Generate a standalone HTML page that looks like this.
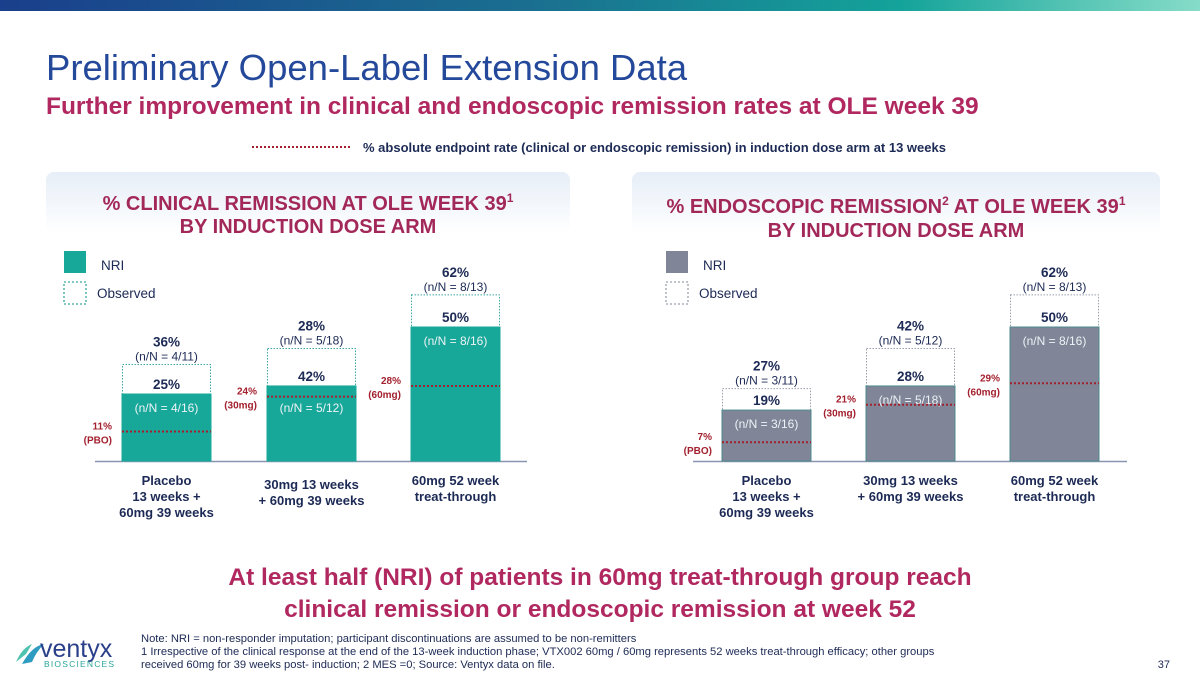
<!DOCTYPE html>
<html><head><meta charset="utf-8">
<style>
html,body{margin:0;padding:0;background:#fff;}
body{width:1200px;height:673px;overflow:hidden;position:relative;font-family:"Liberation Sans",Arial,sans-serif;}
svg text{font-family:"Liberation Sans",Arial,sans-serif;}
</style></head>
<body>
<svg id="slide" width="1200" height="673" viewBox="0 0 1200 673" xmlns="http://www.w3.org/2000/svg">
<defs>
<linearGradient id="topbar" x1="0" x2="1" y1="0" y2="0">
<stop offset="0" stop-color="#1a3f8c"/><stop offset="0.45" stop-color="#1a7090"/><stop offset="0.75" stop-color="#14a39a"/><stop offset="1" stop-color="#86dcc8"/>
</linearGradient>
<linearGradient id="hdr" x1="0" x2="0" y1="0" y2="1">
<stop offset="0" stop-color="#e6eef7"/><stop offset="1" stop-color="#ffffff"/>
</linearGradient>
</defs>
<rect x="0" y="0" width="1200" height="11" fill="url(#topbar)"/>
<text x="46" y="80" font-size="36.5" fill="#24489a">Preliminary Open-Label Extension Data</text>
<text x="46" y="114" font-size="24.5" font-weight="bold" fill="#b0285f">Further improvement in clinical and endoscopic remission rates at OLE week 39</text>
<line x1="252" y1="147" x2="350" y2="147" stroke="#a3202e" stroke-width="2" stroke-dasharray="2,2"/>
<text x="363" y="152" font-size="13" font-weight="bold" fill="#1c2a55">% absolute endpoint rate (clinical or endoscopic remission) in induction dose arm at 13 weeks</text>

<g>
<rect x="46" y="172" width="524" height="62" rx="8" fill="url(#hdr)"/>
<text x="308" y="210" text-anchor="middle" font-size="20" font-weight="bold" fill="#a3285a">% CLINICAL REMISSION AT OLE WEEK 39<tspan font-size="12" dy="-8">1</tspan></text>
<text x="308" y="233" text-anchor="middle" font-size="20" font-weight="bold" fill="#a3285a">BY INDUCTION DOSE ARM</text>
</g>
<g>
<rect x="632" y="172" width="528" height="62" rx="8" fill="url(#hdr)"/>
<text x="896" y="213" text-anchor="middle" font-size="20" font-weight="bold" fill="#a3285a">% ENDOSCOPIC REMISSION<tspan font-size="12" dy="-8">2</tspan><tspan dy="8"> AT OLE WEEK 39</tspan><tspan font-size="12" dy="-8">1</tspan></text>
<text x="896" y="237" text-anchor="middle" font-size="20" font-weight="bold" fill="#a3285a">BY INDUCTION DOSE ARM</text>
</g>

<g id="charts"></g>

<text x="600" y="585" text-anchor="middle" font-size="24.5" font-weight="bold" fill="#b0285f">At least half (NRI) of patients in 60mg treat-through group reach</text>
<text x="600" y="617" text-anchor="middle" font-size="24.5" font-weight="bold" fill="#b0285f">clinical remission or endoscopic remission at week 52</text>

<g>
<path d="M16 662 q6 -14 16 -18 l-6 10 z" fill="#4fc2b0"/>
<path d="M22 664 q10 -18 22 -20 q-8 8 -12 18 z" fill="#2e9cc0"/>
<text x="40" y="657" font-size="25" font-family="Liberation Serif,serif" fill="#2a3f8a">ventyx</text>
<text x="44" y="667" font-size="8.5" letter-spacing="1.2" fill="#2aa59a">BIOSCIENCES</text>
</g>
<g font-size="11.2" fill="#1c2a55">
<text x="141" y="642">Note: NRI = non-responder imputation; participant discontinuations are assumed to be non-remitters</text>
<text x="141" y="655">1 Irrespective of the clinical response at the end of the 13-week induction phase; VTX002 60mg / 60mg represents 52 weeks treat-through efficacy; other groups</text>
<text x="141" y="668">received 60mg for 39 weeks post- induction; 2 MES =0; Source: Ventyx data on file.</text>
</g>
<text x="1170" y="668" text-anchor="end" font-size="11" fill="#1c2a55">37</text>
</svg>
<script>
// ---- data ----
const clinicalNri = [25, 28, 50];
const clinicalObserved = [36, 42, 62];
const clinicalNriLabels = ["25%", "42%", "50%"];
const clinicalNriN = ["(n/N = 4/16)", "(n/N = 5/12)", "(n/N = 8/16)"];
const clinicalObsLabels = ["36%", "28%", "62%"];
const clinicalObsN = ["(n/N = 4/11)", "(n/N = 5/18)", "(n/N = 8/13)"];
const clinicalRef = [11, 24, 28];
const endoNri = [19, 28, 50];
const endoObserved = [27, 42, 62];
const endoNriLabels = ["19%", "28%", "50%"];
const endoNriN = ["(n/N = 3/16)", "(n/N = 5/18)", "(n/N = 8/16)"];
const endoObsLabels = ["27%", "42%", "62%"];
const endoObsN = ["(n/N = 3/11)", "(n/N = 5/12)", "(n/N = 8/13)"];
const endoRef = [7, 21, 29];
const refDoseLabels = ["(PBO)", "(30mg)", "(60mg)"];
const categoryLabels = [["Placebo","13 weeks +","60mg 39 weeks"],["30mg 13 weeks","+ 60mg 39 weeks"],["60mg 52 week","treat-through"]];

const NS = "http://www.w3.org/2000/svg";
const root = document.getElementById('charts');
function el(tag, attrs, parent, txt){
  const e = document.createElementNS(NS, tag);
  for (const k in attrs) e.setAttribute(k, attrs[k]);
  if (txt !== undefined) e.textContent = txt;
  parent.appendChild(e);
  return e;
}
const baseY = 461, pxPerPct = 2.68;
function yScale(v){ return baseY - v * pxPerPct; }

function drawChart(cfg){
  const g = el('g', {}, root);
  
  
  const lg = el('g', {}, g);
  
  
  const l1 = el('rect', {x: cfg.legX, y: 251, width: 22, height: 22, fill: cfg.color}, lg);
  
  
  el('text', {x: cfg.legX + 37, y: 270, 'font-size': 13.5, fill: '#1c2a55'}, lg, 'NRI');
  const l2 = el('rect', {x: cfg.legX, y: 282, width: 22, height: 22, fill: 'none', stroke: cfg.dashColor, 'stroke-width': 1.3, 'stroke-dasharray': '2,2'}, lg);
  
  
  el('text', {x: cfg.legX + 33, y: 298, 'font-size': 13.5, fill: '#1c2a55'}, lg, 'Observed');
  const ax = el('line', {x1: cfg.axisX1, x2: cfg.axisX2, y1: baseY + 0.5, y2: baseY + 0.5, stroke: '#8a96b0', 'stroke-width': 1.5}, g);
  
  
  for (let i = 0; i < 3; i++){
    const x = cfg.barX[i], w = 89, cx = x + w / 2;
    const yo = yScale(cfg.obs[i]), yn = yScale(cfg.nri[i]);
    const ob = el('rect', {x: x + 0.5, y: yo, width: w - 1, height: baseY - yo, fill: '#fff', stroke: cfg.dashColor, 'stroke-width': 1, 'stroke-dasharray': '1.5,1.5'}, g);
    
    
    const nb = el('rect', {x: x, y: yn, width: w, height: baseY - yn, fill: cfg.color, stroke: cfg.edge, 'stroke-width': 1}, g);
    
    
    const t1 = el('text', {x: cx, y: yo - 18, 'text-anchor': 'middle', 'font-size': 13.5, 'font-weight': 'bold', fill: '#1c2a55'}, g, cfg.obsLab[i]);
    
    
    el('text', {x: cx, y: yo - 4, 'text-anchor': 'middle', 'font-size': 12, fill: '#1c2a55'}, g, cfg.obsN[i]);
    const t2 = el('text', {x: cx, y: yn - 5, 'text-anchor': 'middle', 'font-size': 13.5, 'font-weight': 'bold', fill: '#1c2a55'}, g, cfg.nriLab[i]);
    
    
    const nOff = (cfg.midShift && i === 1) ? 26 : 18;
    el('text', {x: cx, y: yn + nOff, 'text-anchor': 'middle', 'font-size': 12, fill: '#eef3f6'}, g, cfg.nriN[i]);
    const yr = yScale(cfg.ref[i]);
    const rl = el('line', {x1: x, x2: x + w, y1: yr, y2: yr, stroke: '#a3202e', 'stroke-width': 2, 'stroke-dasharray': '2,2'}, g);
    
    
    el('text', {x: x - 10, y: yr - 2, 'text-anchor': 'end', 'font-size': 10, 'font-weight': 'bold', fill: '#a3202e'}, g, cfg.ref[i] + '%');
    el('text', {x: x - 10, y: yr + 12, 'text-anchor': 'end', 'font-size': 10, 'font-weight': 'bold', fill: '#a3202e'}, g, refDoseLabels[i]);
    const cl = categoryLabels[i];
    const yStart = (cfg.midShift && i === 1) ? 489 : 485;
    for (let j = 0; j < cl.length; j++){
      const ct = el('text', {x: cx, y: yStart + j * 16, 'text-anchor': 'middle', 'font-size': 13, 'font-weight': 'bold', fill: '#1c2a55'}, g, cl[j]);
      
      
    }
  }
}
drawChart({name: 'clinical-remission-chart', legX: 64, color: '#17a89a', edge: '#17a89a', dashColor: '#3aa7a0', axisX1: 95, axisX2: 527, barX: [122, 267, 411], nri: clinicalNri, obs: clinicalObserved, nriLab: clinicalNriLabels, nriN: clinicalNriN, obsLab: clinicalObsLabels, obsN: clinicalObsN, ref: clinicalRef, midShift: true});
drawChart({name: 'endoscopic-remission-chart', legX: 666, color: '#808598', edge: '#4d8a8c', dashColor: '#9aa0ad', axisX1: 693, axisX2: 1127, barX: [722, 866, 1010], nri: endoNri, obs: endoObserved, nriLab: endoNriLabels, nriN: endoNriN, obsLab: endoObsLabels, obsN: endoObsN, ref: endoRef, midShift: false});
</script>
</body></html>
